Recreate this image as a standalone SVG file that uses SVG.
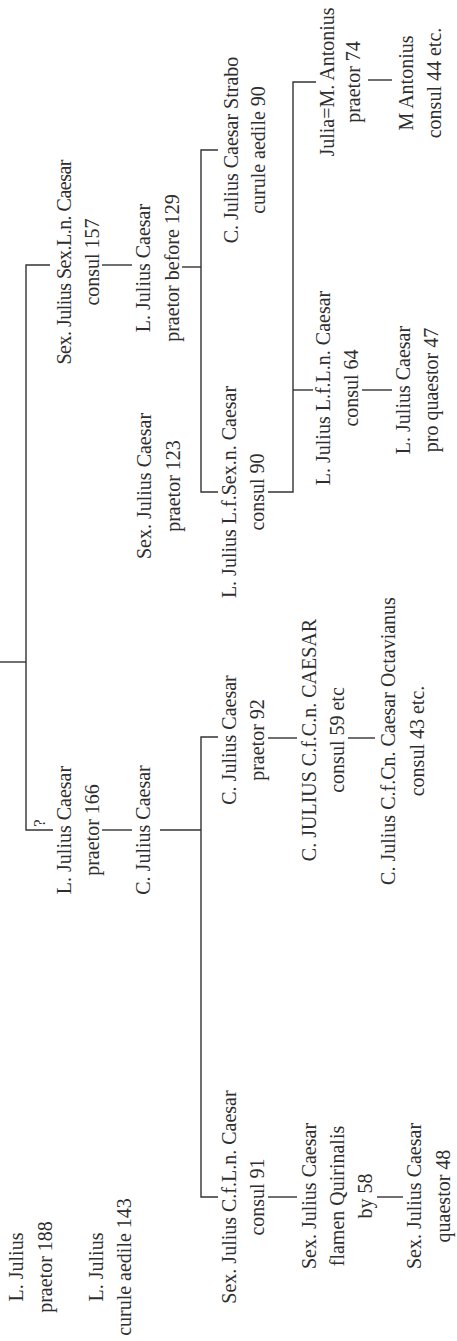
<svg xmlns="http://www.w3.org/2000/svg" width="457" height="1341" viewBox="0 0 457 1341">
<style>
text{font-family:"Liberation Serif","Times New Roman",serif;font-size:20px;fill:#2e2e2e;text-anchor:middle}
.q{font-size:17px}
.c{fill:none;stroke:#333;stroke-width:1.4}
</style>
<rect width="457" height="1341" fill="#fff"/>
<g id="connectors" class="c">
<path d="M0 662H26"/>
<path d="M50 265H26V830H53"/>
<path d="M102 265H132"/>
<path d="M102 830H132"/>
<path d="M218 150H201V492H218"/>
<path d="M182 267H201"/>
<path d="M160 830H201"/>
<path d="M218 737H201V1197H218"/>
<path d="M268 492H293V82H316"/>
<path d="M293 390H313"/>
<path d="M268 738H297"/>
<path d="M268 1197H297"/>
<path d="M348 738H375"/>
<path d="M377 1197H403"/>
<path d="M368 80H392"/>
<path d="M362 390H392"/>
</g>
<g id="n1"><text transform="rotate(-90 23 1267)" x="23" y="1267"><tspan x="23">L. Julius</tspan><tspan x="23" dy="29">praetor 188</tspan></text></g>
<g id="n2"><text transform="rotate(-90 103 1267)" x="103" y="1267"><tspan x="103">L. Julius</tspan><tspan x="103" dy="28">curule aedile 143</tspan></text></g>
<g id="n3"><text transform="rotate(-90 71 262)" x="71" y="262"><tspan x="71" textLength="205">Sex. Julius Sex.L.n. Caesar</tspan><tspan x="71" dy="28">consul 157</tspan></text></g>
<g id="n4"><text transform="rotate(-90 71 830)" x="71" y="830"><tspan x="71">L. Julius Caesar</tspan><tspan x="71" dy="28">praetor 166</tspan></text></g>
<g id="q"><text class="q" transform="rotate(-90 45 823)" x="45" y="823">?</text></g>
<g id="n5"><text transform="rotate(-90 150 268)" x="150" y="268"><tspan x="150">L. Julius Caesar</tspan><tspan x="150" dy="29">praetor before 129</tspan></text></g>
<g id="n6"><text transform="rotate(-90 151 486)" x="151" y="486"><tspan x="151">Sex. Julius Caesar</tspan><tspan x="151" dy="29">praetor 123</tspan></text></g>
<g id="n7"><text transform="rotate(-90 150 830)" x="150" y="830">C. Julius Caesar</text></g>
<g id="n8"><text transform="rotate(-90 238 150)" x="238" y="150"><tspan x="238">C. Julius Caesar Strabo</tspan><tspan x="238" dy="27">curule aedile 90</tspan></text></g>
<g id="n9"><text transform="rotate(-90 236 492)" x="236" y="492"><tspan x="236">L. Julius L.f.Sex.n. Caesar</tspan><tspan x="236" dy="28">consul 90</tspan></text></g>
<g id="n10"><text transform="rotate(-90 236 740)" x="236" y="740"><tspan x="236">C. Julius Caesar</tspan><tspan x="236" dy="28">praetor 92</tspan></text></g>
<g id="n11"><text transform="rotate(-90 236 1197)" x="236" y="1197"><tspan x="236">Sex. Julius C.f.L.n. Caesar</tspan><tspan x="236" dy="28">consul 91</tspan></text></g>
<g id="n12"><text transform="rotate(-90 334 82)" x="334" y="82"><tspan x="334">Julia=M. Antonius</tspan><tspan x="334" dy="26">praetor 74</tspan></text></g>
<g id="n13"><text transform="rotate(-90 330 388)" x="330" y="388"><tspan x="330">L. Julius L.f.L.n. Caesar</tspan><tspan x="330" dy="28">consul 64</tspan></text></g>
<g id="n14"><text transform="rotate(-90 316 740)" x="316" y="740"><tspan x="316">C. JULIUS C.f.C.n. CAESAR</tspan><tspan x="316" dy="28">consul 59 etc</tspan></text></g>
<g id="n15"><text transform="rotate(-90 316 1196)" x="316" y="1196"><tspan x="316">Sex. Julius Caesar</tspan><tspan x="316" dy="28">flamen Quirinalis</tspan><tspan x="316" dy="28">by 58</tspan></text></g>
<g id="n16"><text transform="rotate(-90 413 83)" x="413" y="83"><tspan x="413">M Antonius</tspan><tspan x="413" dy="28">consul 44 etc.</tspan></text></g>
<g id="n17"><text transform="rotate(-90 410 390)" x="410" y="390"><tspan x="410">L. Julius Caesar</tspan><tspan x="410" dy="28">pro quaestor 47</tspan></text></g>
<g id="n18"><text transform="rotate(-90 395 741)" x="395" y="741"><tspan x="395">C. Julius C.f.Cn. Caesar Octavianus</tspan><tspan x="395" dy="29">consul 43 etc.</tspan></text></g>
<g id="n19"><text transform="rotate(-90 421 1196)" x="421" y="1196"><tspan x="421">Sex. Julius Caesar</tspan><tspan x="421" dy="29">quaestor 48</tspan></text></g>
</svg>
